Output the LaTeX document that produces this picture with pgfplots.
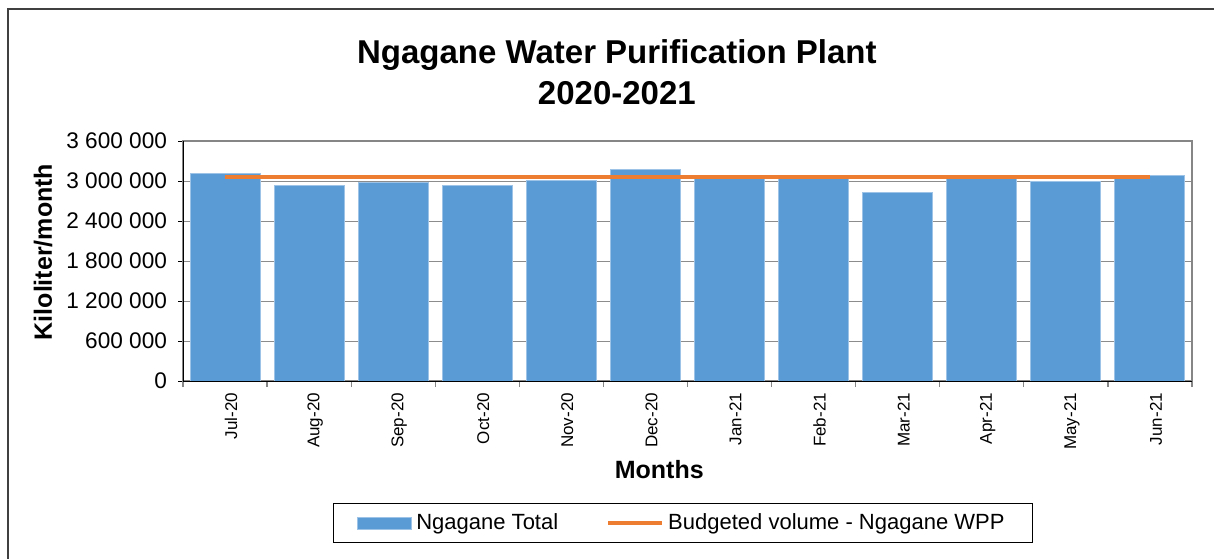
\documentclass[border=0pt]{standalone}
\usepackage{pgfplots}
\pgfplotsset{compat=1.18}
\usepackage{fontspec}
\setmainfont{Liberation Sans}
\definecolor{barblue}{HTML}{5B9BD5}
\definecolor{baredge}{HTML}{9DC3E6}
\definecolor{budget}{HTML}{ED7D31}
\definecolor{framegray}{HTML}{868686}
\definecolor{gridgray}{HTML}{8C8C8C}
\definecolor{outer}{HTML}{404040}
\begin{document}
\begin{tikzpicture}
\useasboundingbox (0,0) rectangle (607pt,-279pt);
\draw[outer, line width=1pt] (3.75pt,-280pt) -- (3.75pt,-4.25pt) -- (608pt,-4.25pt);
\begin{axis}[
  at={(91.5pt,-70.5pt)}, anchor=north west,
  scale only axis, width=504.5pt, height=120pt,
  xmin=-0.5, xmax=11.5, ymin=0, ymax=3600000,
  xtick={0,...,11},
  xticklabels={Jul-20,Aug-20,Sep-20,Oct-20,Nov-20,Dec-20,Jan-21,Feb-21,Mar-21,Apr-21,May-21,Jun-21},
  minor xtick={-0.5,0.5,...,11.5},
  xtick pos=bottom, ytick pos=left,
  tick align=outside,
  major x tick style={draw=none},
  minor x tick style={framegray, line width=0.6pt},
  minor tick length=3pt,
  major tick length=2.5pt,
  major y tick style={black, line width=0.5pt},
  x tick label style={rotate=90, anchor=east, font=\fontsize{8.5}{10}\selectfont, yshift=-3pt},
  ytick={0,600000,1200000,1800000,2400000,3000000,3600000},
  yticklabels={0,{600 000},{1 200 000},{1 800 000},{2 400 000},{3 000 000},{3 600 000}},
  y tick label style={font=\fontsize{11.3}{13}\selectfont, xshift=-2pt},
  scaled y ticks=false,
  ymajorgrids, major grid style={gridgray, line width=0.5pt},
  axis line style={framegray, line width=1pt},
  title={Ngagane Water Purification Plant\\2020-2021},
  title style={align=center, font=\fontsize{16.5}{20.5}\selectfont\bfseries, at={(axis description cs:0.430,1.235)}, anchor=center},
  xlabel={Months},
  xlabel style={font=\fontsize{12.5}{15}\selectfont\bfseries, at={(axis description cs:0.472,-0.371)}, anchor=center},
  ylabel={Kiloliter/month},
  ylabel style={font=\fontsize{12.5}{15}\selectfont\bfseries, at={(axis description cs:-0.1388,0.5375)}, anchor=center},
  legend columns=2,
  legend style={at={(axis description cs:0.4955,-0.592)}, anchor=center, draw=black, line width=0.5pt,
    font=\fontsize{11}{13}\selectfont, inner xsep=12pt, inner ysep=3pt,
    /tikz/every even column/.append style={column sep=22pt}},
  after end axis/.code={
    \draw[black, line width=0.5pt] (rel axis cs:0,1) -- (rel axis cs:0,0) -- (rel axis cs:1,0);
  },
]
\addplot[ybar, bar width=35pt, fill=barblue, draw=baredge, line width=0.5pt,
  legend image code/.code={\draw[fill=barblue, draw=baredge] (0pt,-3pt) rectangle (27pt,3pt);}]
  coordinates {(0,3115000) (1,2930000) (2,2975000) (3,2940000) (4,3005000) (5,3175000)
               (6,3045000) (7,3045000) (8,2830000) (9,3050000) (10,3000000) (11,3090000)};
\addlegendentry{Ngagane Total}
\addplot[budget, line width=2pt, mark=none,
  legend image code/.code={\draw[budget, line width=2pt] (0pt,0pt) -- (27pt,0pt);}]
  coordinates {(0,3055000) (11,3055000)};
\addlegendentry{Budgeted volume - Ngagane WPP}
\end{axis}
\end{tikzpicture}
\end{document}
